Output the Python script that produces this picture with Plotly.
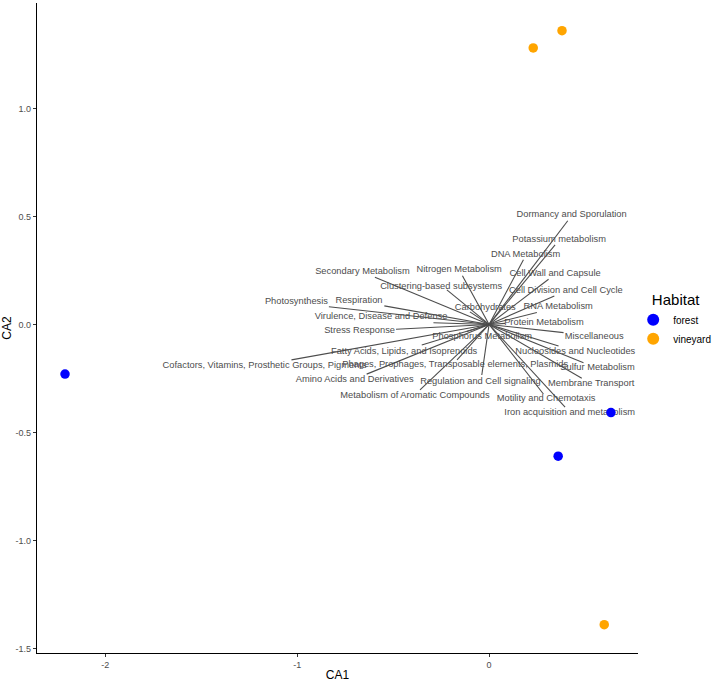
import plotly.graph_objects as go

# Sample scores (sites)
site_habitat = ["forest", "forest", "forest", "vineyard", "vineyard", "vineyard"]
site_ca1 = [-2.21, 0.635, 0.36, 0.23, 0.38, 0.60]
site_ca2 = [-0.23, -0.408, -0.61, 1.28, 1.36, -1.39]

# Functional categories: arrow tips and label positions
categories = [
    "Secondary Metabolism", "Clustering-based subsystems", "Photosynthesis", "Respiration",
    "Virulence, Disease and Defense", "Stress Response", "Fatty Acids, Lipids, and Isoprenoids",
    "Cofactors, Vitamins, Prosthetic Groups, Pigments", "Phages, Prophages, Transposable elements, Plasmids",
    "Amino Acids and Derivatives", "Metabolism of Aromatic Compounds", "Regulation and Cell signaling",
    "Phosphorus Metabolism", "Carbohydrates", "Nitrogen Metabolism", "DNA Metabolism",
    "Dormancy and Sporulation", "Potassium metabolism", "Cell Wall and Capsule",
    "Cell Division and Cell Cycle", "RNA Metabolism", "Protein Metabolism", "Miscellaneous",
    "Nucleosides and Nucleotides", "Sulfur Metabolism", "Membrane Transport",
    "Motility and Chemotaxis", "Iron acquisition and metabolism",
]
arrow_ca1 = [-0.595, -0.22, -0.835, -0.546, -0.29, -0.485, -0.351, -1.03, -0.167, -0.638,
             -0.36, -0.038, -0.116, -0.10, -0.139, 0.179, 0.41, 0.344, 0.31, 0.34, 0.249,
             0.083, 0.388, 0.362, 0.492, 0.483, 0.283, 0.396]
arrow_ca2 = [0.218, 0.16, 0.082, 0.086, 0.008, -0.022, -0.095, -0.164, -0.164, -0.23,
             -0.303, -0.234, -0.033, 0.058, 0.225, 0.299, 0.48, 0.368, 0.209, 0.132, 0.055,
             0.005, -0.038, -0.10, -0.177, -0.249, -0.322, -0.383]
label_ca1 = [-0.66, -0.25, -1.004, -0.678, -0.563, -0.675, -0.443, -1.17, -0.177, -0.70,
             -0.386, -0.045, -0.036, -0.02, -0.156, 0.19, 0.43, 0.365, 0.344, 0.40, 0.36,
             0.286, 0.548, 0.449, 0.565, 0.532, 0.297, 0.42]
label_ca2 = [0.243, 0.175, 0.106, 0.110, 0.038, -0.031, -0.126, -0.191, -0.1875, -0.257,
             -0.33, -0.265, -0.056, 0.078, 0.252, 0.325, 0.507, 0.391, 0.234, 0.156, 0.08,
             0.01, -0.056, -0.126, -0.198, -0.272, -0.345, -0.408]

habitat_colors = {"forest": "#0000FF", "vineyard": "#FFA500"}
FONT = "Liberation Sans, Arial, sans-serif"

fig = go.Figure()

# arrow segments from origin
seg_x, seg_y = [], []
for ax_, ay_ in zip(arrow_ca1, arrow_ca2):
    seg_x += [0, ax_, None]
    seg_y += [0, ay_, None]
fig.add_trace(go.Scatter(x=seg_x, y=seg_y, mode="lines",
                         line=dict(color="#4d4d4d", width=1.1),
                         showlegend=False, hoverinfo="skip"))

# labels
fig.add_trace(go.Scatter(x=label_ca1, y=label_ca2, mode="text", text=categories,
                         textposition="middle center",
                         textfont=dict(family=FONT, size=9.3, color="#4d4d4d"),
                         showlegend=False, hoverinfo="skip"))

# site points
for hab in ["forest", "vineyard"]:
    xs = [x for x, h in zip(site_ca1, site_habitat) if h == hab]
    ys = [y for y, h in zip(site_ca2, site_habitat) if h == hab]
    fig.add_trace(go.Scatter(x=xs, y=ys, mode="markers", name=hab,
                             marker=dict(color=habitat_colors[hab], size=9.5)))

fig.update_layout(
    width=714, height=682,
    margin=dict(l=37, r=76, t=3, b=29, autoexpand=False),
    paper_bgcolor="white", plot_bgcolor="white",
    font=dict(family=FONT, color="#4d4d4d"),
    legend=dict(title=dict(text="\u00a0\u00a0\u00a0\u00a0Habitat", font=dict(size=15, color="black")),
                font=dict(size=10, color="black"),
                bgcolor="rgba(0,0,0,0)",
                x=0.992, xanchor="left", y=0.565, yanchor="top",
                itemsizing="constant", tracegroupgap=0, itemwidth=30),
)
fig.update_xaxes(range=[-2.356, 0.776], showgrid=False, zeroline=False, automargin=False,
                 showline=True, linecolor="black", linewidth=1.2,
                 ticks="outside", ticklen=3, tickcolor="#333333",
                 tickvals=[-2, -1, 0], ticktext=["-2", "-1", "0"],
                 tickfont=dict(size=9, color="#4d4d4d"),
                 title=dict(text="CA1", font=dict(size=12, color="black"), standoff=3))
fig.update_yaxes(range=[-1.521, 1.488], showgrid=False, zeroline=False, automargin=False,
                 showline=True, linecolor="black", linewidth=1.2,
                 ticks="outside", ticklen=3, tickcolor="#333333",
                 tickvals=[-1.5, -1.0, -0.5, 0.0, 0.5, 1.0],
                 ticktext=["-1.5", "-1.0", "-0.5", "0.0", "0.5", "1.0"],
                 tickfont=dict(size=9, color="#4d4d4d"),
                 title=dict(text="CA2", font=dict(size=12, color="black"), standoff=6))

fig.write_html("out.html", config={"displayModeBar": False},
               post_script="document.body.style.margin='0';document.body.style.overflow='hidden';")
